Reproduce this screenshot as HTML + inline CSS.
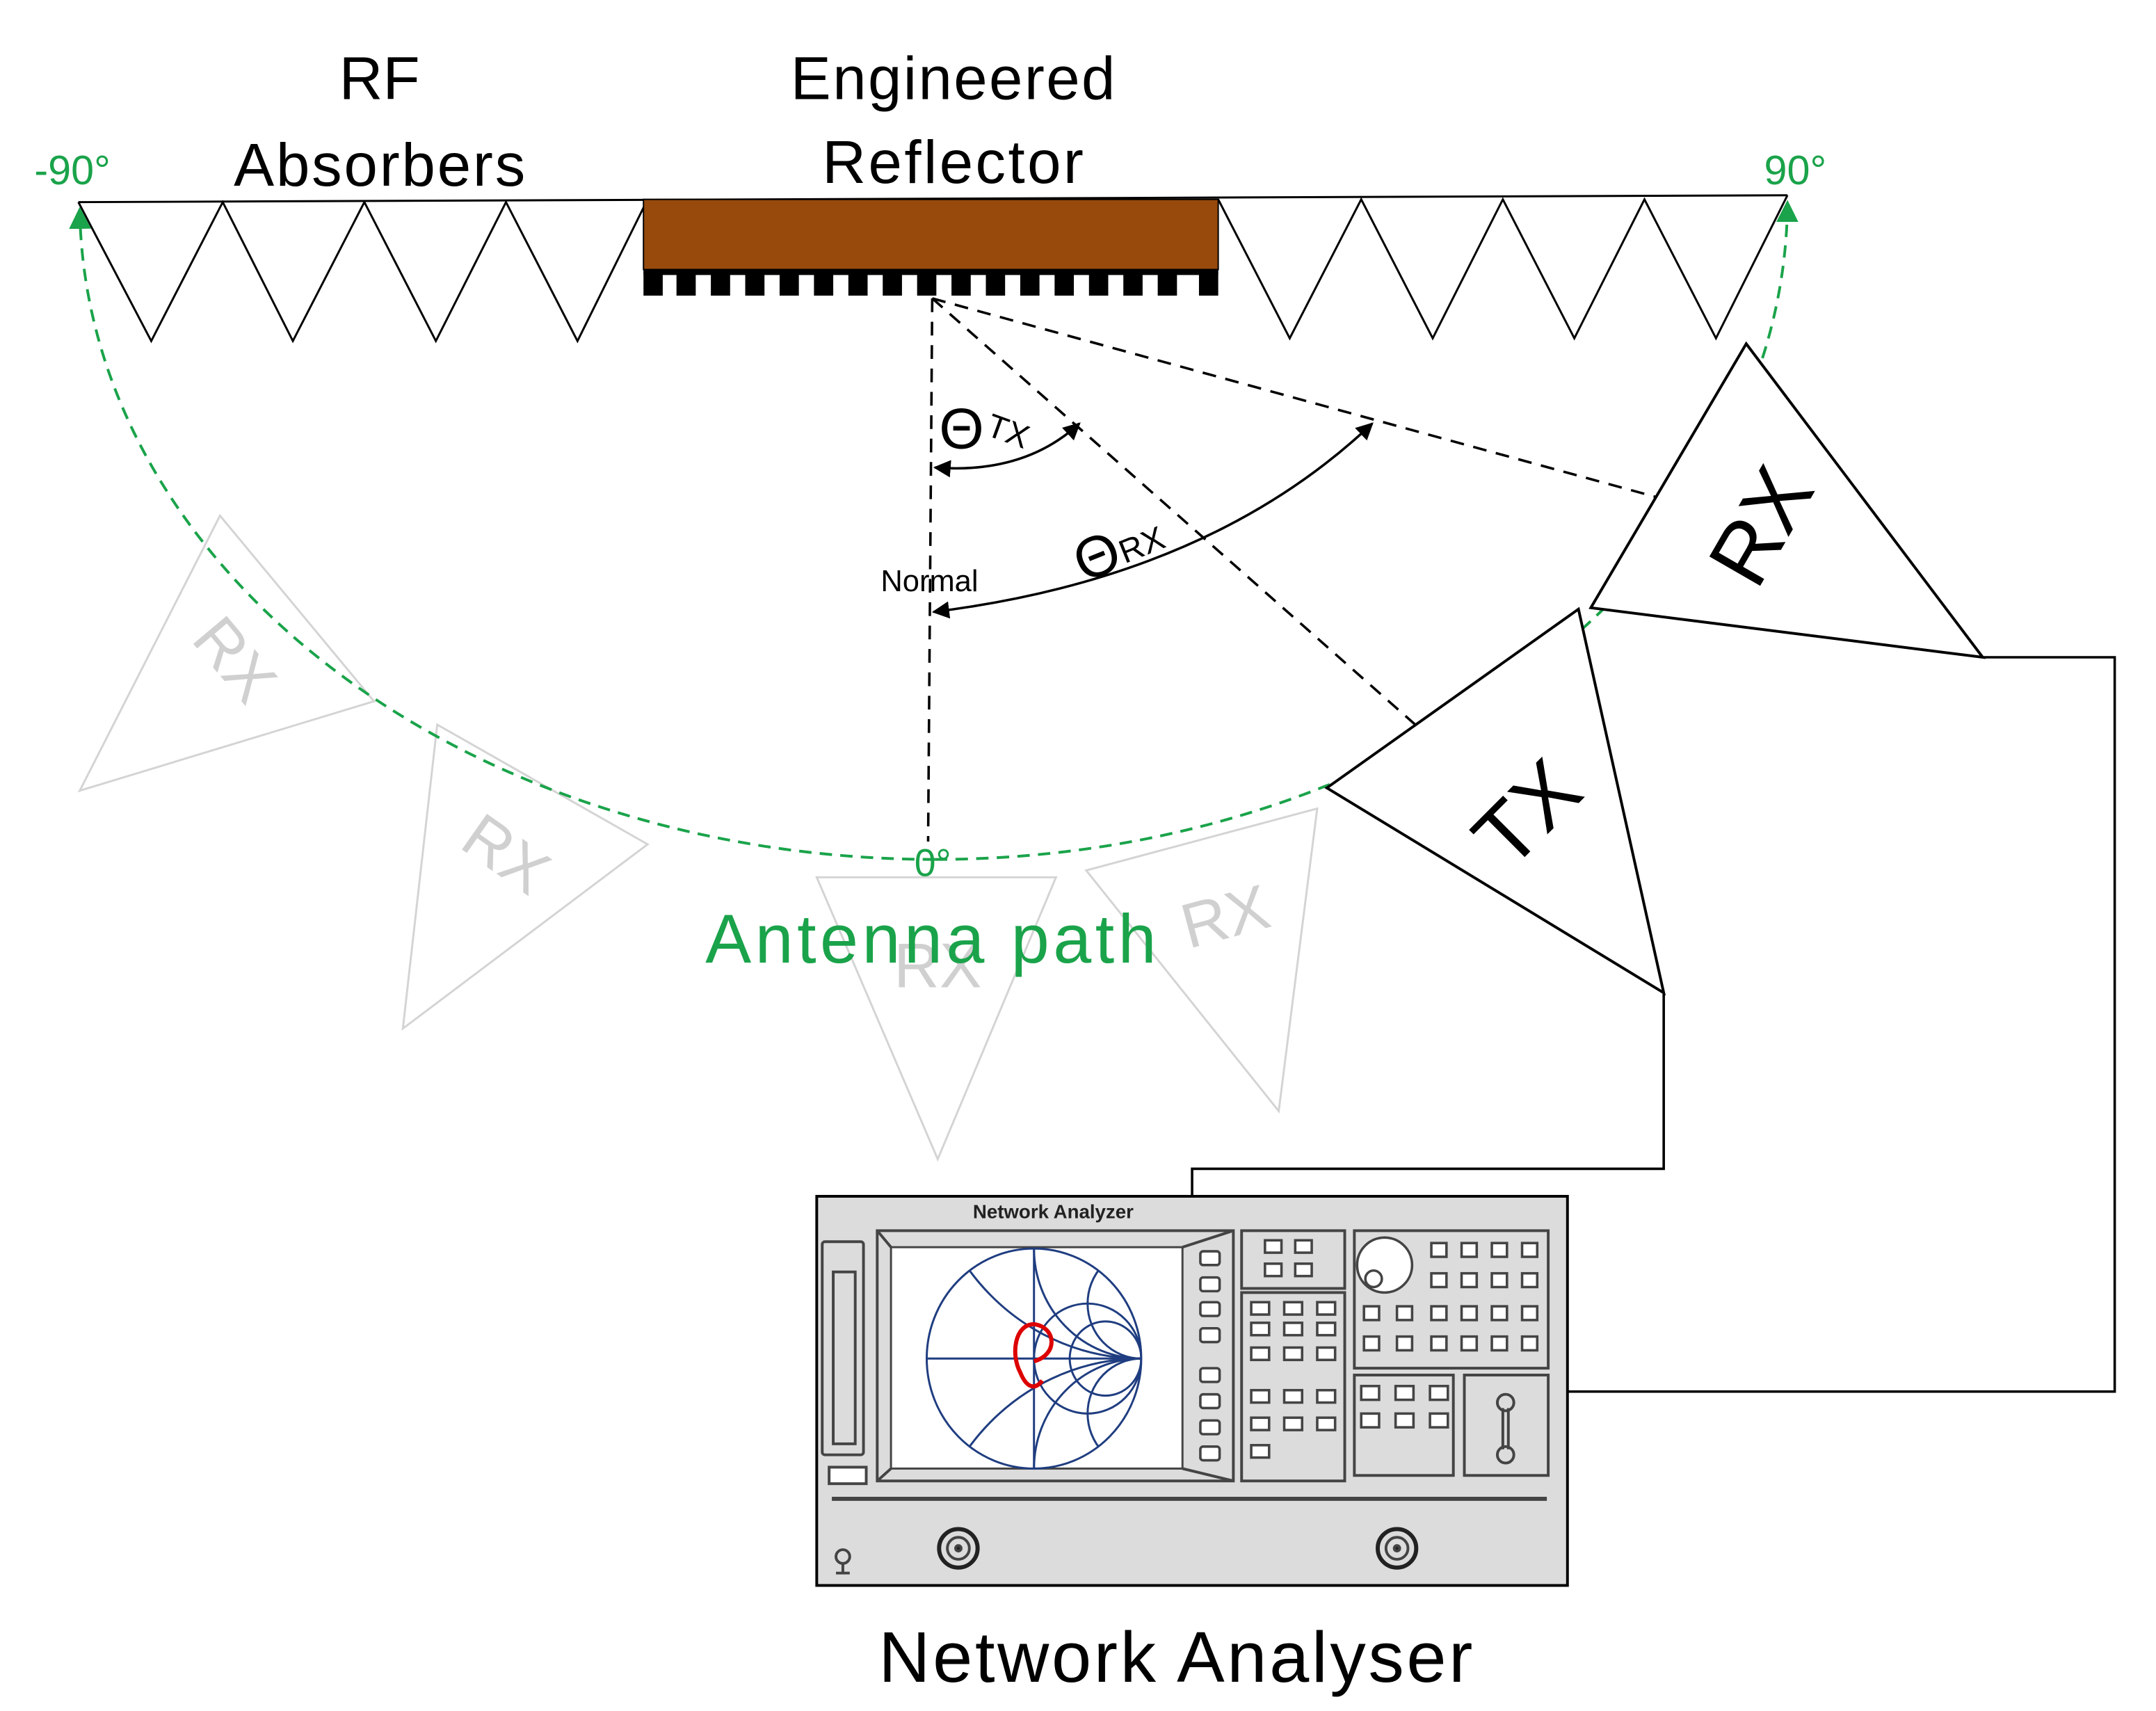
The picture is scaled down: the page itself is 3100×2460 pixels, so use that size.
<!DOCTYPE html>
<html><head><meta charset="utf-8"><style>
html,body{margin:0;padding:0;background:#fff;width:3100px;height:2460px;overflow:hidden}
svg{display:block}
text{font-family:"Liberation Sans",sans-serif}
</style></head><body>
<svg width="3100" height="2460" viewBox="0 0 1550 1230" xmlns="http://www.w3.org/2000/svg">
<defs>
<marker id="ab" viewBox="0 0 10 10" refX="9" refY="5" markerWidth="7" markerHeight="7" orient="auto-start-reverse"><path d="M0,0 L10,5 L0,10 z" fill="#000"/></marker>
<marker id="ag" viewBox="0 0 10 10" refX="9" refY="5" markerWidth="8" markerHeight="8" orient="auto-start-reverse"><path d="M0,0 L10,5 L0,10 z" fill="#1aa34a"/></marker>
<clipPath id="sc"><ellipse cx="752" cy="988" rx="78" ry="80"/></clipPath>
</defs>
<g transform="scale(0.9885)">
<g fill="none" stroke="#d4d4d4" stroke-width="1.5">
<polygon points="160,375 272,510 58,575"/>
<polygon points="318,527 471,614 293,748"/>
<polygon points="594,638 768,638 682,843"/>
<polygon points="790,633 958,588 930,808"/>
</g>
<g fill="#d0d0d0" font-size="46">
<text transform="translate(168,482) rotate(50)" text-anchor="middle" dominant-baseline="middle">RX</text>
<text transform="translate(366,624) rotate(35)" text-anchor="middle" dominant-baseline="middle">RX</text>
<text x="682" y="718" text-anchor="middle">RX</text>
<text transform="translate(892,670) rotate(-15)" text-anchor="middle" dominant-baseline="middle">RX</text>
</g>
<g fill="none" stroke="#000" stroke-width="1.5">
<line x1="57" y1="147" x2="1300" y2="142"/>
<polyline points="57,147 110,248 162,147 213,248 265,147 317,248 368,147 420,248 470,147"/>
<polyline points="886,145 938,246 990,145 1042,246 1093,145 1145,246 1196,145 1248,246 1300,142"/>
</g>
<rect x="468" y="145" width="418" height="51" fill="#974a0c" stroke="#000" stroke-width="1"/>
<g fill="#000">
<rect x="468" y="196" width="418" height="4"/>
<rect x="468" y="196" width="14" height="19"/><rect x="492" y="196" width="14" height="19"/><rect x="517" y="196" width="14" height="19"/><rect x="542" y="196" width="14" height="19"/><rect x="567" y="196" width="14" height="19"/><rect x="592" y="196" width="14" height="19"/><rect x="617" y="196" width="14" height="19"/><rect x="642" y="196" width="14" height="19"/><rect x="667" y="196" width="14" height="19"/><rect x="692" y="196" width="14" height="19"/><rect x="717" y="196" width="14" height="19"/><rect x="742" y="196" width="14" height="19"/><rect x="767" y="196" width="14" height="19"/><rect x="792" y="196" width="14" height="19"/><rect x="817" y="196" width="14" height="19"/><rect x="842" y="196" width="14" height="19"/><rect x="872" y="196" width="14" height="19"/>
</g>
<path d="M680,625 A622,478 0 0 1 58,152" fill="none" stroke="#1aa34a" stroke-width="2" stroke-dasharray="9,6" marker-end="url(#ag)"/>
<path d="M680,625 A620,480 0 0 0 1300,147" fill="none" stroke="#1aa34a" stroke-width="2" stroke-dasharray="9,6" marker-end="url(#ag)"/>
<g fill="#1aa34a">
<text x="25" y="134" font-size="30">-90°</text>
<text x="1283" y="134" font-size="30">90°</text>
<text x="665" y="637" font-size="28">0°</text>
<text x="513" y="700" font-size="50" textLength="328">Antenna path</text>
</g>
<g font-size="44" text-anchor="middle" fill="#000">
<text x="276" y="72">RF</text>
<text x="276" y="135" textLength="212">Absorbers</text>
<text x="693" y="72" textLength="236">Engineered</text>
<text x="693" y="133" textLength="190">Reflector</text>
<text x="855" y="1223" font-size="52" textLength="432">Network Analyser</text>
</g>
<g stroke="#000" stroke-width="1.8" stroke-dasharray="10,7" fill="none">
<line x1="678" y1="217" x2="675" y2="612"/>
<line x1="678" y1="217" x2="1103" y2="592"/>
<line x1="678" y1="217" x2="1272" y2="380"/>
</g>
<text x="676" y="430" font-size="22" text-anchor="middle" fill="#000">Normal</text>
<path d="M680,340 Q745,345 785,308" fill="none" stroke="#000" stroke-width="1.8" marker-start="url(#ab)" marker-end="url(#ab)"/>
<path d="M679,445 Q880,420 998,308" fill="none" stroke="#000" stroke-width="1.8" marker-start="url(#ab)" marker-end="url(#ab)"/>
<text x="683" y="326" font-size="42" fill="#000">Θ</text>
<text transform="translate(716,316) rotate(20)" font-size="24" fill="#000">TX</text>
<text transform="translate(788,424) rotate(-22)" font-size="42" fill="#000">Θ</text>
<text transform="translate(818,410) rotate(-22)" font-size="24" fill="#000">RX</text>
<g fill="#fff" stroke="#000" stroke-width="2">
<polygon points="1270,250 1442,478 1157,442"/>
<polygon points="1148,443 1210,722 965,573"/>
</g>
<text transform="translate(1285,385) rotate(-60)" font-size="62" text-anchor="middle" dominant-baseline="middle" fill="#000">RX</text>
<text transform="translate(1114,595) rotate(-45)" font-size="62" text-anchor="middle" dominant-baseline="middle" fill="#000">TX</text>
<g fill="none" stroke="#000" stroke-width="1.8">
<polyline points="1442,478 1538,478 1538,1012 1140,1012"/>
<polyline points="1210,722 1210,850 867,850 867,870"/>
</g>
<rect x="594" y="870" width="546" height="283" fill="#dcdcdc" stroke="#000" stroke-width="2"/>
<text x="766" y="886" font-size="14" font-weight="bold" text-anchor="middle" fill="#222">Network Analyzer</text>
<g fill="none" stroke="#444" stroke-width="2">
<rect x="598" y="903" width="30" height="155" rx="2"/>
<rect x="606" y="925" width="16" height="125"/>
<rect x="603" y="1067" width="27" height="12" fill="#fff"/>
<rect x="638" y="895" width="259" height="182"/>
<line x1="638" y1="895" x2="648" y2="907"/><line x1="897" y1="895" x2="860" y2="907"/>
<line x1="638" y1="1077" x2="648" y2="1068"/><line x1="897" y1="1077" x2="860" y2="1068"/>
<rect x="903" y="895" width="75" height="42"/>
<rect x="903" y="940" width="75" height="137"/>
<rect x="985" y="895" width="141" height="100"/>
<rect x="985" y="1000" width="72" height="73"/>
<rect x="1065" y="1000" width="61" height="73"/>
<line x1="605" y1="1090" x2="1125" y2="1090" stroke-width="3"/>
</g>
<rect x="648" y="907" width="212" height="161" fill="#fff" stroke="#444" stroke-width="1.5"/>
<g fill="none" stroke="#1f3d80" stroke-width="1.5">
<ellipse cx="752" cy="988" rx="78" ry="80"/>
<line x1="674" y1="988" x2="830" y2="988"/>
<line x1="752" y1="908" x2="752" y2="1068"/>
<g clip-path="url(#sc)">
<ellipse cx="791" cy="988" rx="39" ry="40"/>
<ellipse cx="804" cy="988" rx="26" ry="27"/>
<ellipse cx="830" cy="908" rx="78" ry="80"/>
<ellipse cx="830" cy="1068" rx="78" ry="80"/>
<ellipse cx="830" cy="948" rx="39" ry="40"/>
<ellipse cx="830" cy="1028" rx="39" ry="40"/>
<ellipse cx="830" cy="828" rx="156" ry="160"/>
<ellipse cx="830" cy="1148" rx="156" ry="160"/>
</g>
</g>
<path d="M752,990 C770,985 768,965 752,963 C738,963 735,985 742,998 C746,1008 752,1012 758,1004" fill="none" stroke="#d00" stroke-width="3"/>
<g fill="#fff" stroke="#444" stroke-width="1.8">
<rect x="873" y="910" width="14" height="10" rx="2"/><rect x="873" y="929" width="14" height="10" rx="2"/><rect x="873" y="947" width="14" height="10" rx="2"/><rect x="873" y="966" width="14" height="10" rx="2"/>
<rect x="873" y="995" width="14" height="10" rx="2"/><rect x="873" y="1014" width="14" height="10" rx="2"/><rect x="873" y="1033" width="14" height="10" rx="2"/><rect x="873" y="1052" width="14" height="10" rx="2"/>
<rect x="920" y="902" width="12" height="9"/><rect x="942" y="902" width="12" height="9"/><rect x="920" y="919" width="12" height="9"/><rect x="942" y="919" width="12" height="9"/>
<rect x="910" y="947" width="13" height="9"/><rect x="934" y="947" width="13" height="9"/><rect x="958" y="947" width="13" height="9"/>
<rect x="910" y="962" width="13" height="9"/><rect x="934" y="962" width="13" height="9"/><rect x="958" y="962" width="13" height="9"/>
<rect x="910" y="980" width="13" height="9"/><rect x="934" y="980" width="13" height="9"/><rect x="958" y="980" width="13" height="9"/>
<rect x="910" y="1011" width="13" height="9"/><rect x="934" y="1011" width="13" height="9"/><rect x="958" y="1011" width="13" height="9"/>
<rect x="910" y="1031" width="13" height="9"/><rect x="934" y="1031" width="13" height="9"/><rect x="958" y="1031" width="13" height="9"/>
<rect x="910" y="1051" width="13" height="9"/>
<rect x="1041" y="904" width="11" height="10"/><rect x="1063" y="904" width="11" height="10"/><rect x="1085" y="904" width="11" height="10"/><rect x="1107" y="904" width="11" height="10"/>
<rect x="1041" y="926" width="11" height="10"/><rect x="1063" y="926" width="11" height="10"/><rect x="1085" y="926" width="11" height="10"/><rect x="1107" y="926" width="11" height="10"/>
<rect x="992" y="950" width="11" height="10"/><rect x="1016" y="950" width="11" height="10"/><rect x="1041" y="950" width="11" height="10"/><rect x="1063" y="950" width="11" height="10"/><rect x="1085" y="950" width="11" height="10"/><rect x="1107" y="950" width="11" height="10"/>
<rect x="992" y="972" width="11" height="10"/><rect x="1016" y="972" width="11" height="10"/><rect x="1041" y="972" width="11" height="10"/><rect x="1063" y="972" width="11" height="10"/><rect x="1085" y="972" width="11" height="10"/><rect x="1107" y="972" width="11" height="10"/>
<rect x="990" y="1008" width="13" height="10"/><rect x="1015" y="1008" width="13" height="10"/><rect x="1040" y="1008" width="13" height="10"/>
<rect x="990" y="1028" width="13" height="10"/><rect x="1015" y="1028" width="13" height="10"/><rect x="1040" y="1028" width="13" height="10"/>
<ellipse cx="1007" cy="920" rx="20" ry="20"/>
<circle cx="999" cy="930" r="6"/>
</g>
<g fill="none" stroke="#444" stroke-width="2">
<circle cx="1095" cy="1020" r="6"/><circle cx="1095" cy="1058" r="6"/>
<line x1="1093" y1="1024" x2="1093" y2="1054"/><line x1="1097" y1="1024" x2="1097" y2="1054"/>
<circle cx="697" cy="1126" r="14" stroke="#222" stroke-width="3"/><circle cx="697" cy="1126" r="8"/><circle cx="697" cy="1126" r="2" fill="#222"/>
<circle cx="1016" cy="1126" r="14" stroke="#222" stroke-width="3"/><circle cx="1016" cy="1126" r="8"/><circle cx="1016" cy="1126" r="2" fill="#222"/>
<circle cx="613" cy="1132" r="5"/><line x1="613" y1="1137" x2="613" y2="1144"/><line x1="608" y1="1144" x2="618" y2="1144"/>
</g>
</g>
</svg>
</body></html>
